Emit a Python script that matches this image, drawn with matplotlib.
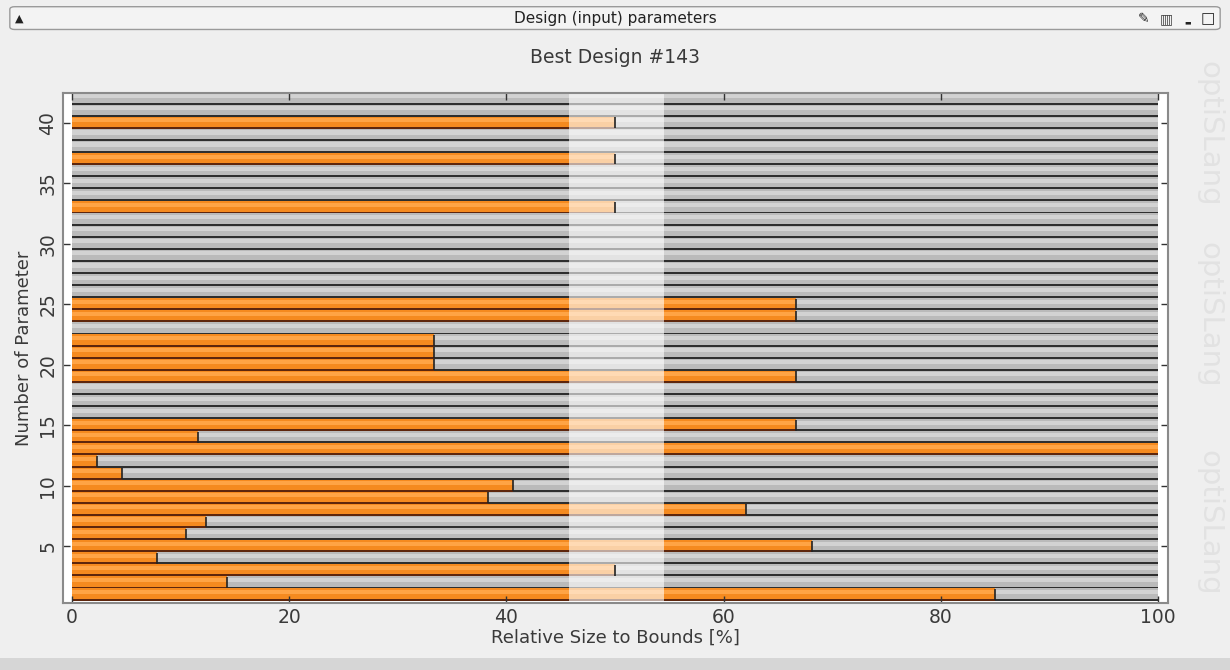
"""Best design: relative size of input parameters to their bounds."""

import matplotlib

matplotlib.use("Agg")
import matplotlib.pyplot as plt
import numpy as np
from matplotlib.patches import FancyBboxPatch, Rectangle

# values, parameter 1 .. 42
param_numbers = np.arange(1, 43)
relative_size = [
    85.0, 14.3, 50.0, 7.8, 68.1, 10.5, 12.3, 62.1, 38.3, 40.6,
    4.6, 2.3, 100.0, 11.6, 66.7, 0.0, 0.0, 0.0, 66.7, 33.3,
    33.3, 33.3, 0.0, 66.7, 66.7, 0.0, 0.0, 0.0, 0.0, 0.0,
    0.0, 0.0, 50.0, 0.0, 0.0, 0.0, 50.0, 0.0, 0.0, 50.0,
    0.0, 0.0,
]
x_ticks = [0, 20, 40, 60, 80, 100]
y_ticks = [5, 10, 15, 20, 25, 30, 35, 40]

window_title = "Design (input) parameters"
chart_title = "Best Design #143"
x_label = "Relative Size to Bounds [%]"
y_label = "Number of Parameter"
watermark = "optiSLang"

ORANGE = "#f58a1f"
ORANGE_HI = "#ffa445"
ORANGE_DARK = "#5e260c"
GREY = "#bababa"
GREY_HI = "#d2d2d2"
GREY_DARK = "#2e2e2e"
TEXT = "#3a3a3a"


def draw_bars(ax, rows, values):
    values = np.asarray(values)
    rest = 100.0 - values
    # dark base gives the line under each bar
    ax.barh(rows, values, height=1.0, color=ORANGE_DARK, linewidth=0)
    ax.barh(rows, rest, left=values, height=1.0, color=GREY_DARK, linewidth=0)
    # main body, shifted up a little
    ax.barh(rows + 0.08, values, height=0.84, color=ORANGE, linewidth=0)
    ax.barh(rows + 0.08, rest, left=values, height=0.84, color=GREY, linewidth=0)
    # highlight strip on top
    ax.barh(rows + 0.2, values, height=0.34, color=ORANGE_HI, linewidth=0)
    ax.barh(rows + 0.2, rest, left=values, height=0.34, color=GREY_HI, linewidth=0)
    inside = (values > 0) & (values < 100)
    ax.vlines(values[inside], rows[inside] - 0.45, rows[inside] + 0.45,
              color="#222222", linewidth=1.2)


fig = plt.figure(figsize=(12.3, 6.7), dpi=100)
fig.patch.set_facecolor("#efefef")

# window title bar
bar = FancyBboxPatch((0.008, 0.956), 0.984, 0.034, boxstyle="round,pad=0,rounding_size=0.004",
                     transform=fig.transFigure, facecolor="#f3f3f3", edgecolor="#9a9a9a",
                     linewidth=1.0)
fig.patches.append(bar)
fig.text(0.5, 0.972, window_title, ha="center", va="center", fontsize=11, color="#222222")
fig.text(0.016, 0.972, "\u25b2", ha="center", va="center", fontsize=8, color="#222222")
fig.text(0.930, 0.972, "\u270e", ha="center", va="center", fontsize=10, color="#222222")
fig.text(0.948, 0.972, "\u25a5", ha="center", va="center", fontsize=10, color="#444444")
fig.text(0.966, 0.966, "\u25ac", ha="center", va="center", fontsize=5, color="#222222")
fig.text(0.982, 0.972, "\u25a1", ha="center", va="center", fontsize=11, color="#222222")

# bottom strip of the panel
fig.patches.append(Rectangle((0, 0), 1, 0.018, transform=fig.transFigure,
                             facecolor="#d6d6d6", edgecolor="none"))

# faint watermark on the right
for yc in [0.80, 0.53, 0.22]:
    fig.text(0.983, yc, watermark, rotation=-90, ha="center", va="center",
             fontsize=21, color="#e2e2e2")

fig.text(0.5, 0.914, chart_title, ha="center", va="center", fontsize=13.5, color=TEXT)

ax = fig.add_axes([0.0512, 0.1, 0.8984, 0.761])
ax.set_facecolor("white")
rows = param_numbers.astype(float)
draw_bars(ax, rows, relative_size)

# washed-out band in the middle of the plot
ax.axvspan(45.8, 54.5, color="white", alpha=0.6, linewidth=0)

ax.set_xlim(-0.83, 100.92)
ax.set_ylim(0.3, 42.45)
ax.set_xticks(x_ticks)
ax.set_yticks(y_ticks)
ax.tick_params(axis="both", direction="in", length=5, width=1.0, colors="#333333",
               labelsize=13.5, labelcolor=TEXT, top=True, right=True)
ax.tick_params(axis="y", labelrotation=90, pad=4)
for lab in ax.get_yticklabels():
    lab.set_va("center")
ax.set_xlabel(x_label, fontsize=13, color=TEXT, labelpad=1)
ax.set_ylabel(y_label, fontsize=13, color=TEXT, labelpad=4)
for spine in ax.spines.values():
    spine.set_color("#8a8a8a")
    spine.set_linewidth(1.5)

fig.savefig("out.png", dpi=100, facecolor=fig.get_facecolor())
plt.close(fig)
